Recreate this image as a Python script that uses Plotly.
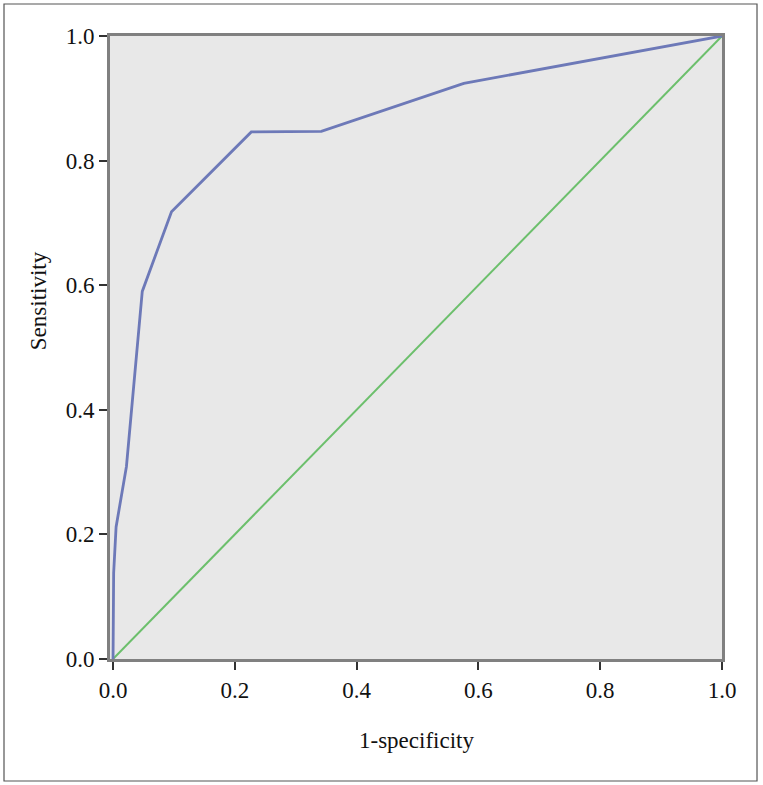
import plotly.graph_objects as go

# ROC curve points (1-specificity, sensitivity)
fpr = [0.0, 0.001, 0.005, 0.022, 0.048, 0.096, 0.227, 0.342, 0.576, 1.0]
tpr = [0.0, 0.138, 0.212, 0.309, 0.590, 0.718, 0.846, 0.847, 0.924, 1.0]

# reference line
ref_x = [0.0, 1.0]
ref_y = [0.0, 1.0]

tick_vals = [0.0, 0.2, 0.4, 0.6, 0.8, 1.0]
tick_text = ["0.0", "0.2", "0.4", "0.6", "0.8", "1.0"]

font_family = "Liberation Serif"

fig = go.Figure()

fig.add_trace(go.Scatter(x=ref_x, y=ref_y, mode="lines",
                         line=dict(color="#6cbf6c", width=2), showlegend=False))
fig.add_trace(go.Scatter(x=fpr, y=tpr, mode="lines",
                         line=dict(color="#6d79b8", width=2.8), showlegend=False))

axis_common = dict(
    tickvals=tick_vals, ticktext=tick_text,
    showgrid=False, zeroline=False,
    showline=True, mirror=True, linecolor="#808080", linewidth=3,
    ticks="outside", ticklen=8, tickwidth=2, tickcolor="#333333",
    tickfont=dict(family=font_family, size=23, color="#111111"),
)

fig.update_xaxes(range=[-0.005, 1.0], **axis_common)
fig.update_yaxes(range=[0.0, 1.0], **axis_common)

# axis titles
fig.add_annotation(text="1-specificity", x=0.501, y=-0.131, xref="paper", yref="paper",
                   showarrow=False, xanchor="center", yanchor="middle",
                   font=dict(family=font_family, size=23, color="#111111"))
fig.add_annotation(text="Sensitivity", x=-0.117, y=0.575, xref="paper", yref="paper",
                   showarrow=False, textangle=-90, xanchor="center", yanchor="middle",
                   font=dict(family=font_family, size=23, color="#111111"))

# outer frame
fig.add_shape(type="rect", xref="paper", yref="paper",
              x0=-0.1732, x1=1.0572, y0=-0.1958, y1=1.0514,
              line=dict(color="#555555", width=1.2), fillcolor="rgba(0,0,0,0)")

fig.update_layout(
    width=763, height=785,
    margin=dict(l=110, r=41, t=36, b=126),
    plot_bgcolor="#e8e8e8",
    paper_bgcolor="white",
)

fig.write_html("out.html", config={"displayModeBar": False},
               post_script="document.body.style.margin='0';")
